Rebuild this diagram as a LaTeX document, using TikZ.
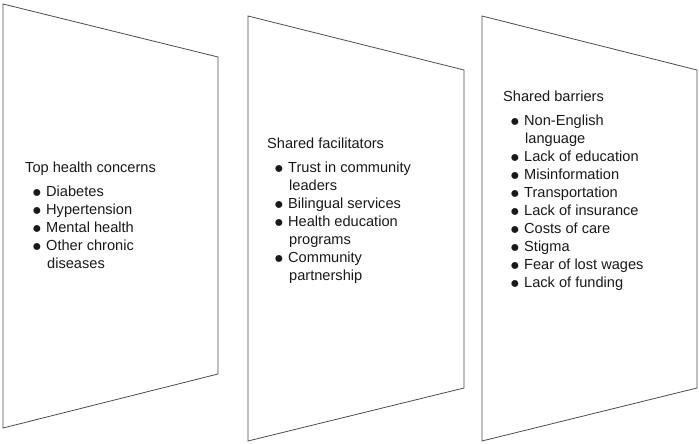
\documentclass[tikz,border=0pt]{standalone}
\usepackage{fontspec}
\setmainfont{Liberation Sans}
\usepackage{tikz}
\usetikzlibrary{positioning}

\newcommand{\dotmark}{\raisebox{-0.4pt}{\fontsize{16}{16}\selectfont ●}}
\newcommand{\itm}[1]{\hspace*{7pt}\makebox[14pt][l]{\dotmark}#1}
\newcommand{\cnt}[1]{\hspace*{22pt}#1}

\begin{document}
\begin{tikzpicture}[
x=1pt, y=-1pt,
panel/.style={draw=black!70, line width=0.8pt},
lst/.style={anchor=north west, inner sep=0pt, align=left, text=black!90, font=\fontsize{14.6}{18}\selectfont}
]
\useasboundingbox (0,0) rectangle (699,444);
% the three slanted panels
\draw[panel] (3,4) -- (218,57) -- (218,374) -- (3,428) -- cycle;
\draw[panel] (248,16) -- (464,70) -- (464,388) -- (248,441) -- cycle;
\draw[panel] (482,16) -- (697,70) -- (697,388) -- (482,441) -- cycle;

\node[lst] (concerns) at (25,162) {Top health concerns\\[6pt]
\itm{Diabetes}\\
\itm{Hypertension}\\
\itm{Mental health}\\
\itm{Other chronic}\\
\cnt{diseases}};

\node[lst] (facil) at (267,138) {Shared facilitators\\[6pt]
\itm{Trust in community}\\
\cnt{leaders}\\
\itm{Bilingual services}\\
\itm{Health education}\\
\cnt{programs}\\
\itm{Community}\\
\cnt{partnership}};

\node[lst] (barriers) at (503,91) {Shared barriers\\[6pt]
\itm{Non-English}\\
\cnt{language}\\
\itm{Lack of education}\\
\itm{Misinformation}\\
\itm{Transportation}\\
\itm{Lack of insurance}\\
\itm{Costs of care}\\
\itm{Stigma}\\
\itm{Fear of lost wages}\\
\itm{Lack of funding}};
\end{tikzpicture}
\end{document}
